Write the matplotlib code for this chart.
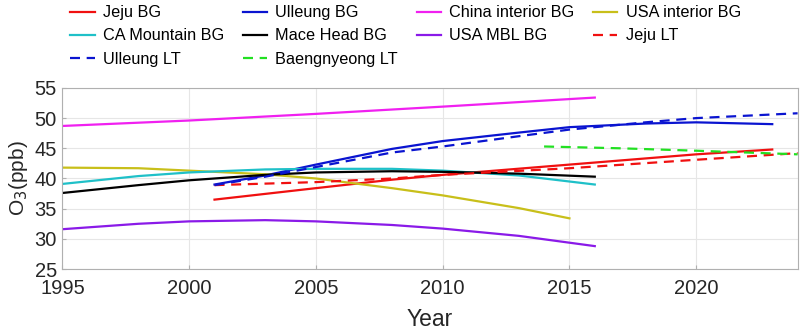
import matplotlib.pyplot as plt

plt.rcParams['font.family'] = ['Liberation Sans', 'DejaVu Sans']

# values (ppb)
jeju_bg_x = [2001, 2005, 2008, 2010, 2015, 2020, 2023]
jeju_bg_y = [36.5, 38.4, 39.8, 40.6, 42.3, 44.0, 44.8]

ulleung_bg_x = [2001, 2003, 2005, 2008, 2010, 2013, 2015, 2018, 2020, 2023]
ulleung_bg_y = [39.0, 40.5, 42.3, 44.9, 46.2, 47.6, 48.5, 49.1, 49.3, 49.0]

china_x = [1995, 2000, 2005, 2010, 2016]
china_y = [48.7, 49.6, 50.7, 51.9, 53.4]

usa_int_x = [1995, 1998, 2000, 2003, 2005, 2008, 2010, 2013, 2015]
usa_int_y = [41.8, 41.7, 41.3, 40.7, 40.0, 38.4, 37.2, 35.1, 33.4]

ca_x = [1995, 1998, 2000, 2003, 2005, 2008, 2010, 2013, 2016]
ca_y = [39.1, 40.4, 41.0, 41.5, 41.6, 41.6, 41.3, 40.5, 39.0]

mace_x = [1995, 1998, 2000, 2003, 2005, 2008, 2010, 2013, 2016]
mace_y = [37.6, 38.9, 39.7, 40.6, 41.0, 41.2, 41.1, 40.8, 40.3]

mbl_x = [1995, 1998, 2000, 2003, 2005, 2008, 2010, 2013, 2016]
mbl_y = [31.6, 32.5, 32.9, 33.1, 32.9, 32.3, 31.7, 30.5, 28.8]

jeju_lt_x = [2001, 2005, 2008, 2010, 2015, 2020, 2024]
jeju_lt_y = [38.9, 39.4, 40.0, 40.6, 41.7, 43.1, 44.2]

ulleung_lt_x = [2001, 2003, 2005, 2008, 2010, 2013, 2015, 2018, 2020, 2024]
ulleung_lt_y = [38.9, 40.3, 41.9, 44.3, 45.3, 47.0, 48.1, 49.3, 50.0, 50.8]

baeng_lt_x = [2014, 2017, 2020, 2024]
baeng_lt_y = [45.3, 45.0, 44.6, 44.0]

fig = plt.figure(figsize=(8, 3.33), dpi=100)
ax = fig.add_axes([0.078, 0.192, 0.919, 0.544])

lw = 1.6
dash = (4.5, 3)
h_jeju, = ax.plot(jeju_bg_x, jeju_bg_y, color='#f01010', lw=lw, label='Jeju BG')
h_ull, = ax.plot(ulleung_bg_x, ulleung_bg_y, color='#0a14d0', lw=lw, label='Ulleung BG')
h_china, = ax.plot(china_x, china_y, color='#f020f0', lw=lw, label='China interior BG')
h_usa, = ax.plot(usa_int_x, usa_int_y, color='#c8bf1a', lw=lw, label='USA interior BG')
h_ca, = ax.plot(ca_x, ca_y, color='#1fc0c8', lw=lw, label='CA Mountain BG')
h_mace, = ax.plot(mace_x, mace_y, color='black', lw=lw, label='Mace Head BG')
h_mbl, = ax.plot(mbl_x, mbl_y, color='#8a1ae8', lw=lw, label='USA MBL BG')
h_jlt, = ax.plot(jeju_lt_x, jeju_lt_y, color='#f01010', lw=lw, dashes=dash, label='Jeju LT')
h_ult, = ax.plot(ulleung_lt_x, ulleung_lt_y, color='#0a14d0', lw=lw, dashes=dash, label='Ulleung LT')
h_blt, = ax.plot(baeng_lt_x, baeng_lt_y, color='#22e022', lw=lw, dashes=dash, label='Baengnyeong LT')

ax.set_xlim(1995, 2024)
ax.set_ylim(25, 55)
ax.set_xticks(range(1995, 2021, 5))
ax.set_yticks(range(25, 56, 5))
ax.grid(True, color='#e6e6e6', lw=0.8)
ax.set_axisbelow(True)
for s in ax.spines.values():
    s.set_color('#b0b0b0')
ax.tick_params(direction='in', length=3, colors='#b0b0b0', labelcolor='#262626', labelsize=14.5)
ax.tick_params(axis='x', pad=7)
ax.tick_params(axis='y', pad=4)
ax.set_xlabel('Year', fontsize=16.5, color='#262626', labelpad=7)
ax.set_ylabel('O$_3$(ppb)', fontsize=15, color='#262626', labelpad=3)

# column-major order to get the reference's row layout
order = [h_jeju, h_ca, h_ult, h_ull, h_mace, h_blt, h_china, h_mbl, h_usa, h_jlt]
fig.legend(handles=order, labels=[h.get_label() for h in order], ncol=4,
           loc='upper left', bbox_to_anchor=(0.088, 0.984), frameon=False,
           borderpad=0, borderaxespad=0,
           fontsize=11.7, handlelength=1.5, handletextpad=0.5,
           columnspacing=1.15, labelspacing=0.5)

fig.savefig('out.png', dpi=100)
